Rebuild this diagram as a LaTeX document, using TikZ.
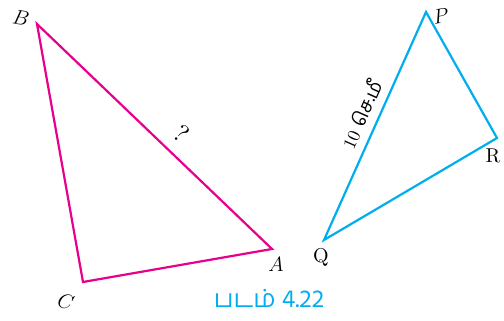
\documentclass[tikz,border=0pt]{standalone}
\usepackage{fontspec}
\newfontfamily\tamilfont[Script=Tamil]{Hind Madurai}
\definecolor{tmag}{HTML}{E6008C}
\definecolor{tcyan}{HTML}{00AEEF}
\newcommand{\bigtxt}[1]{\scalebox{2}{#1}}
\begin{document}
\begin{tikzpicture}[x=1pt,y=-1pt,
  edgeM/.style={draw=tmag,line width=2.2pt,line join=miter},
  edgeC/.style={draw=tcyan,line width=2.2pt,line join=miter},
  vlabel/.style={font=\fontsize{21}{21}\selectfont,inner sep=0pt},
  tlabel/.style={font=\normalsize,inner sep=0pt}]
\path[use as bounding box] (0,0) rectangle (504,321);
\coordinate (B) at (37,24);
\coordinate (C) at (83,282);
\coordinate (A) at (272,249);
\coordinate (P) at (426,12);
\coordinate (Q) at (324,240);
\coordinate (R) at (497,138);
\draw[edgeM] (B) -- (C) -- (A) -- cycle;
\draw[edgeC] (P) -- (Q) -- (R) -- cycle;
\node[vlabel,rotate=-10] (lB) at (21,18) {$B$};
\node[vlabel,rotate=-15] (lC) at (66,302) {$C$};
\node[vlabel] (lA) at (276,264) {$A$};
\node[vlabel,rotate=10] (lP) at (441,16) {$P$};
\node[tlabel] (lR) at (493,156) {\bigtxt{R}};
\node[tlabel] (lQ) at (321,257) {\bigtxt{Q}};
\node[tlabel,rotate=-40] (lq) at (182,134) {\scalebox{2.5}{?}};
\node[inner sep=0pt,rotate=65.9,font=\normalsize] (len) at (361,114) {\scalebox{1.8}{10}\hspace{6pt}{\fontsize{19}{19}\selectfont\tamilfont செ.மீ}};
\node[inner sep=0pt,text=tcyan,font=\tamilfont\fontsize{25}{25}\selectfont] (cap) at (269,298) {படம் 4.22};
\end{tikzpicture}
\end{document}
